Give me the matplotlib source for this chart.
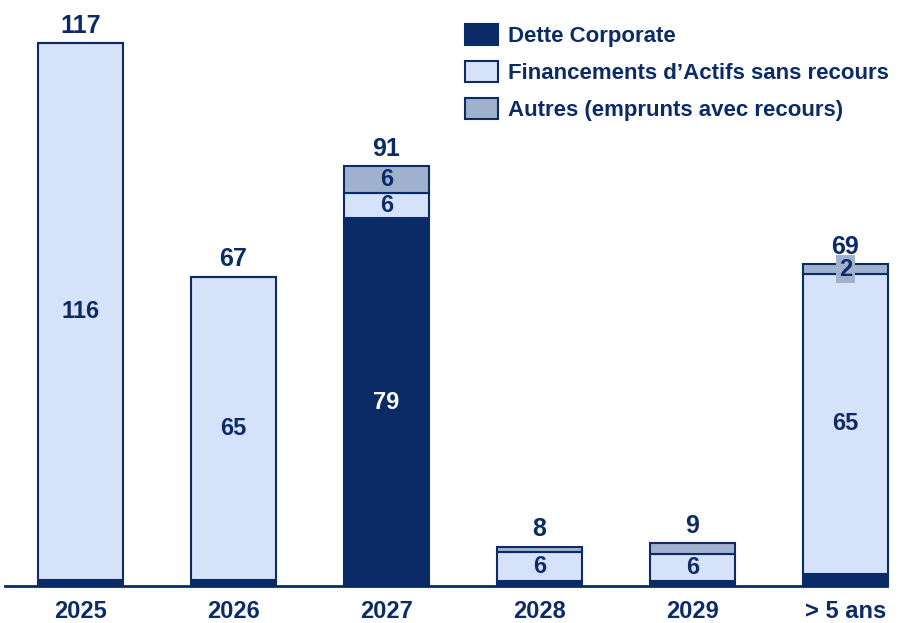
import matplotlib
matplotlib.use("Agg")
import numpy as np
from matplotlib import pyplot as plt
from matplotlib.patches import Patch

plt.rcParams["font.family"] = ["Liberation Sans", "DejaVu Sans"]
plt.rcParams["font.weight"] = "bold"

NAVY = "#0B2B66"
LIGHT = "#D6E2FA"
GREY = "#A0B1CD"

years = ["2025", "2026", "2027", "2028", "2029", "> 5 ans"]
corporate = [1.2, 1.3, 79.3, 1.0, 1.0, 2.6]
financements = [115.8, 65.3, 5.4, 6.4, 5.8, 64.7]
autres = [0.0, 0.0, 5.8, 1.0, 2.4, 2.0]

total_labels = ["117", "67", "91", "8", "9", "69"]
corporate_labels = ["", "", "79", "", "", ""]
financement_labels = ["116", "65", "6", "6", "6", "65"]
autres_labels = ["", "", "6", "", "", "2"]

fig = plt.figure(figsize=(9.01, 6.23), dpi=100)
ax = fig.add_axes([5 / 901, 37 / 623, 882 / 901, 586 / 623])

x = np.arange(len(years))
width = 0.556
corp = np.array(corporate)
fin = np.array(financements)
aut = np.array(autres)

bar_kw = {"edgecolor": NAVY, "linewidth": 1.5, "clip_on": False}
ax.bar(x, corp, width, color=NAVY, label="Dette Corporate", **bar_kw)
ax.bar(x, fin, width, bottom=corp, color=LIGHT,
       label="Financements d\u2019Actifs sans recours", **bar_kw)
ax.bar(x, aut, width, bottom=corp + fin, color=GREY,
       label="Autres (emprunts avec recours)", **bar_kw)

tops = corp + fin + aut
for i in range(len(years)):
    ax.annotate(total_labels[i], (x[i], tops[i]), xytext=(0, 4),
                textcoords="offset points", ha="center", va="bottom",
                fontsize=18, fontweight="bold", color=NAVY)
    if corporate_labels[i]:
        ax.text(x[i], corp[i] / 2, corporate_labels[i], ha="center",
                va="center", fontsize=17, fontweight="bold", color="white")
    if financement_labels[i]:
        ax.text(x[i], corp[i] + fin[i] / 2, financement_labels[i],
                ha="center", va="center", fontsize=17, fontweight="bold",
                color=NAVY)
    if autres_labels[i]:
        box = None
        if aut[i] < 3:
            box = {"boxstyle": "square,pad=0.12", "facecolor": GREY,
                   "edgecolor": "none"}
        ax.text(x[i], corp[i] + fin[i] + aut[i] / 2, autres_labels[i],
                ha="center", va="center", fontsize=17, fontweight="bold",
                color=NAVY, bbox=box)

ax.set_xlim(-75.5 / 153, 806.5 / 153)
ax.set_ylim(0, 586 / 4.64)
ax.set_xticks(x)
ax.set_xticklabels(years, fontsize=17, fontweight="bold", color=NAVY)
ax.tick_params(axis="x", length=0, pad=10)
ax.set_yticks([])
for side in ["top", "right", "left"]:
    ax.spines[side].set_visible(False)
ax.spines["bottom"].set_color(NAVY)
ax.spines["bottom"].set_linewidth(2)

handles = [
    Patch(facecolor=NAVY, edgecolor=NAVY, linewidth=1.5),
    Patch(facecolor=LIGHT, edgecolor=NAVY, linewidth=1.5),
    Patch(facecolor=GREY, edgecolor=NAVY, linewidth=1.5),
]
labels = ["Dette Corporate", "Financements d\u2019Actifs sans recours",
          "Autres (emprunts avec recours)"]
leg = fig.legend(handles, labels, loc="upper left",
                 bbox_to_anchor=(465 / 901, 1 - 24 / 623), frameon=False,
                 prop={"size": 16, "weight": "bold"}, handlelength=1.5,
                 handleheight=1.1, handletextpad=0.45, labelspacing=0.62,
                 borderaxespad=0, borderpad=0)
for t in leg.get_texts():
    t.set_color(NAVY)

fig.savefig("out.png", dpi=100)
